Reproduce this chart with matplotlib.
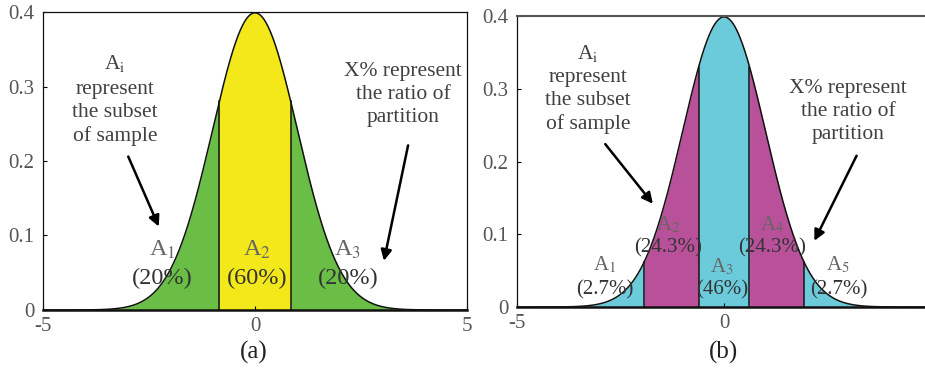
import numpy as np
import matplotlib
matplotlib.use("Agg")
import matplotlib.pyplot as plt

plt.rcParams['font.family'] = ['Liberation Serif', 'DejaVu Serif']
plt.rcParams['mathtext.fontset'] = 'stix'

# Partition shares (percent) of a standard normal sample, left to right
shares_a = [20, 60, 20]
shares_b = [2.7, 24.3, 46, 24.3, 2.7]
colors_a = ['#6abd45', '#f2e81a', '#6abd45']
colors_b = ['#6ccbdb', '#b8509a', '#6ccbdb', '#b8509a', '#6ccbdb']
names_a = ['A$_1$', 'A$_2$', 'A$_3$']
names_b = ['A$_1$', 'A$_2$', 'A$_3$', 'A$_4$', 'A$_5$']
panel_titles = ['(a)', '(b)']

x = np.linspace(-5, 5, 4001)
pdf = np.exp(-x ** 2 / 2) / np.sqrt(2 * np.pi)
cdf = np.concatenate([[0], np.cumsum((pdf[1:] + pdf[:-1]) / 2 * np.diff(x))])
cdf /= cdf[-1]


def cuts(shares):
    c = np.cumsum(shares)[:-1] / 100.0
    return np.interp(c, cdf, x)


def draw_panel(ax, shares, colors):
    edges = np.concatenate([[-5], cuts(shares), [5]])
    for (lo, hi), col in zip(zip(edges[:-1], edges[1:]), colors):
        m = (x >= lo) & (x <= hi)
        ax.fill_between(x[m], 0, pdf[m], color=col, lw=0)
    for e in edges[1:-1]:
        ax.plot([e, e], [0, np.exp(-e ** 2 / 2) / np.sqrt(2 * np.pi)],
                color='#111111', lw=1.1)
    ax.plot(x, pdf, color='#111111', lw=1.1)
    ax.set_xlim(-5, 5)
    ax.set_ylim(0, 0.4)
    ax.set_xticks([-5, 0, 5])
    ax.set_xticklabels(['-5', '0', '5'])
    ax.set_yticks([0, 0.1, 0.2, 0.3, 0.4])
    ax.set_yticklabels(['0', '0.1', '0.2', '0.3', '0.4'])
    ax.tick_params(direction='in', length=3, width=0.8, labelsize=15,
                   labelcolor='#555555')
    ax.tick_params(axis='y', pad=6)
    ax.tick_params(axis='x', pad=5)
    for s in ax.spines.values():
        s.set_linewidth(0.9)
        s.set_color('#111111')
    ax.spines['bottom'].set_linewidth(1.8)


fig = plt.figure(figsize=(9.25, 3.72), dpi=100)
ax_a = fig.add_axes([0.0465, 0.1667, 0.4584, 0.801])
ax_b = fig.add_axes([0.559, 0.1747, 0.4476, 0.782])

draw_panel(ax_a, shares_a, colors_a)
draw_panel(ax_b, shares_b, colors_b)
ax_b.spines['top'].set_color('#555555')
ax_b.spines['top'].set_linewidth(1.5)

fig.text(254 / 925, 1 - 352 / 372, panel_titles[0], ha='center', va='center',
         fontsize=18, color='#222222')
fig.text(724 / 925, 1 - 352 / 372, panel_titles[1], ha='center', va='center',
         fontsize=18, color='#222222')

note_kw = dict(ha='center', va='center', fontsize=15.5, color='#404040',
               linespacing=1.28)
arrow_kw = dict(arrowstyle='-|>', color='black', lw=1.8, mutation_scale=16,
                shrinkA=0, shrinkB=0)

# panel (a) notes
ax_a.text(-3.30, 0.331, 'A$_\\mathrm{i}$', **note_kw)
ax_a.text(-3.30, 0.264, 'represent\nthe subset\nof sample', **note_kw)
ax_a.text(3.49, 0.289, 'X% represent\nthe ratio of\npartition', **note_kw)
ax_a.annotate('', xy=(-2.27, 0.112), xytext=(-2.99, 0.206), arrowprops=arrow_kw)
ax_a.annotate('', xy=(3.04, 0.066), xytext=(3.61, 0.221), arrowprops=arrow_kw)

pos_a = [(-2.18, 0.0805, 0.043), (0.05, 0.0805, 0.043), (2.19, 0.0805, 0.043)]
for (px, yn, yp), nm, sh in zip(pos_a, names_a, shares_a):
    ax_a.text(px, yn, nm, ha='center', va='center', fontsize=17.5, color='#666666')
    ax_a.text(px, yp, f'({sh:g}%)', ha='center', va='center', fontsize=17.5,
              color='#333333')

# panel (b) notes
ax_b.text(-3.28, 0.349, 'A$_\\mathrm{i}$', **note_kw)
ax_b.text(-3.28, 0.283, 'represent\nthe subset\nof sample', **note_kw)
ax_b.text(3.0, 0.269, 'X% represent\nthe ratio of\npartition', **note_kw)
ax_b.annotate('', xy=(-1.72, 0.142), xytext=(-2.87, 0.224), arrowprops=arrow_kw)
ax_b.annotate('', xy=(2.18, 0.091), xytext=(3.2, 0.208), arrowprops=arrow_kw)

pos_b = [(-2.89, 0.058, 0.0234), (-1.35, 0.113, 0.0807), (-0.05, 0.0555, 0.0234),
         (1.15, 0.113, 0.0807), (2.76, 0.058, 0.0234)]
for (px, yn, yp), nm, sh in zip(pos_b, names_b, shares_b):
    ax_b.text(px, yn, nm, ha='center', va='center', fontsize=15, color='#666666')
    ax_b.text(px, yp, f'({sh:g}%)', ha='center', va='center', fontsize=15,
              color='#333333')

fig.savefig('out.png', dpi=100)
